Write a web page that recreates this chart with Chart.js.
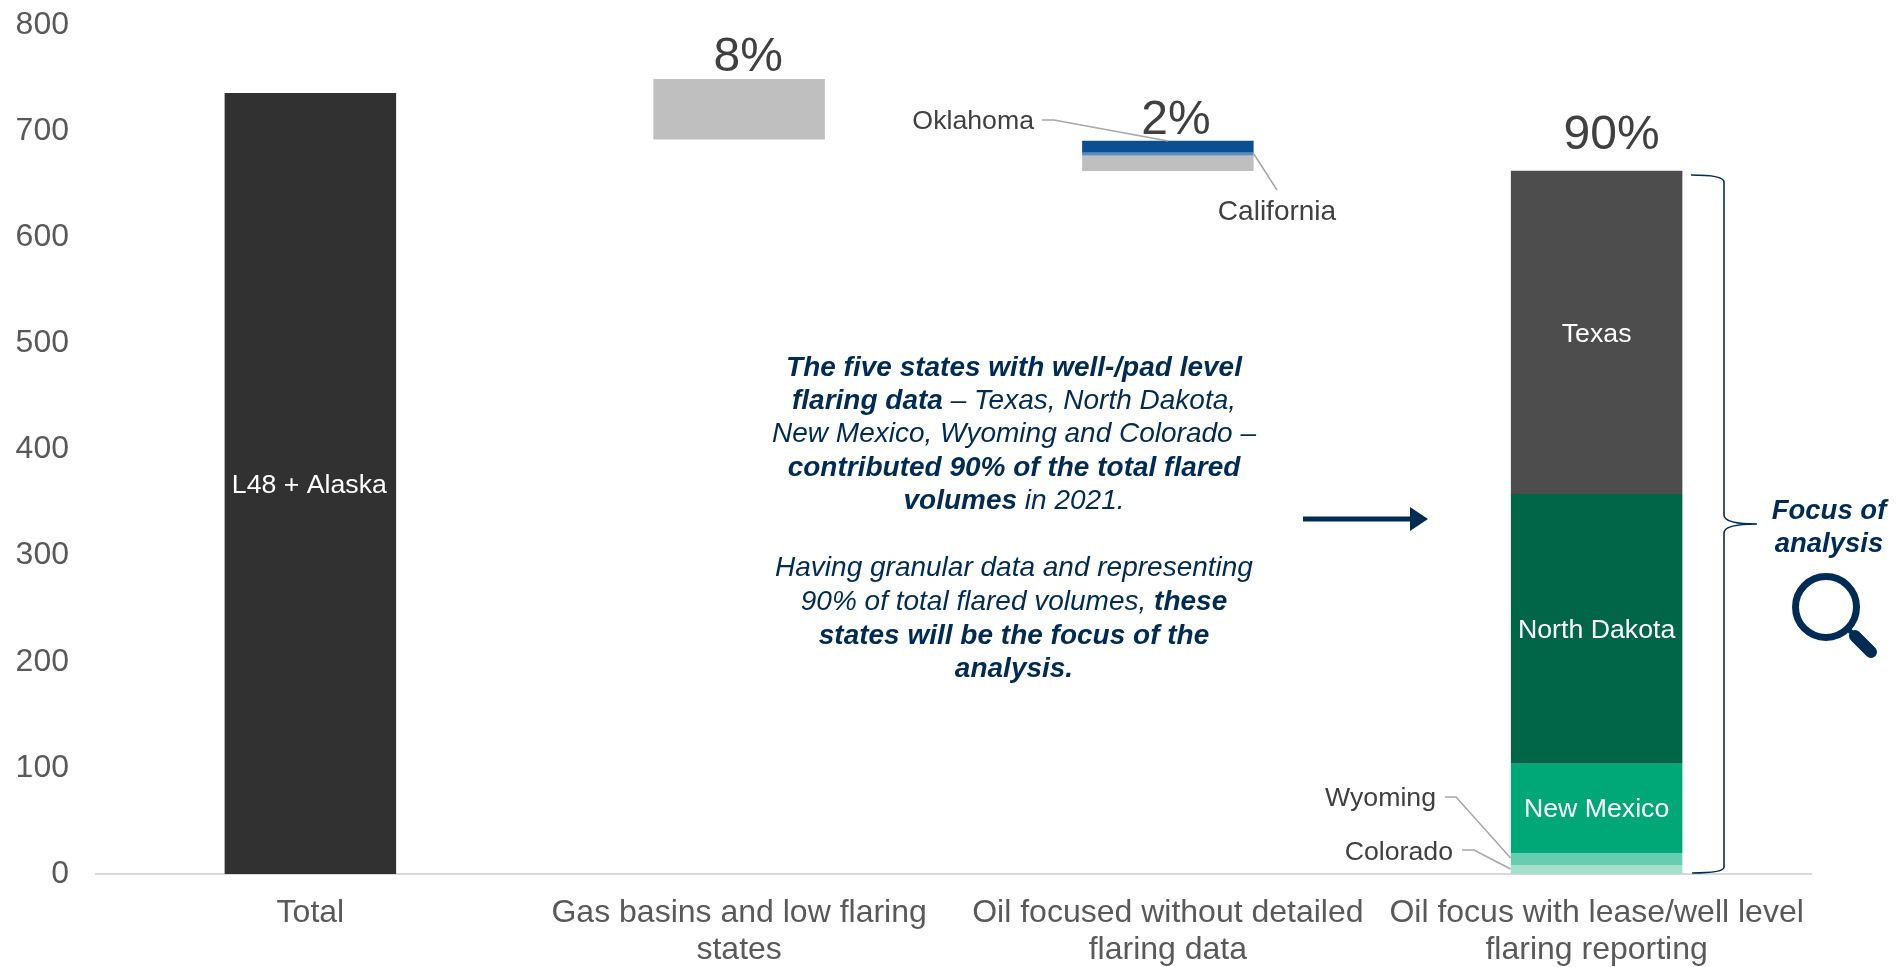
<!DOCTYPE html>
<html lang="en">
<head>
    <meta charset="UTF-8">
    <title>Flared volumes by group of states</title>
    <script src="https://cdn.jsdelivr.net/npm/chart.js"></script>
    <style>
        * {
            margin: 0;
            padding: 0;
            box-sizing: border-box;
        }

        body {
            background: #ffffff;
            overflow: hidden;
        }

        canvas {
            display: block;
        }
    </style>
</head>
<body>
    <canvas id="flaringChart" width="1897" height="967"></canvas>

    <script>
        const categories = [
            "Total",
            ["Gas basins and low flaring", "states"],
            ["Oil focused without detailed", "flaring data"],
            ["Oil focus with lease/well level", "flaring reporting"]
        ];

        // Stacked values. "offset" is the invisible part under the floating bars
        const offset = [0, 692, 662.5, 0];
        const total = [736, null, null, null];
        const lowFlaring = [null, 57, null, null];
        const otherOil = [null, null, 14.3, null];
        const california = [null, null, 2.8, null];
        const oklahoma = [null, null, 11.4, null];
        const colorado = [null, null, null, 8.5];
        const wyoming = [null, null, null, 11.3];
        const newMexico = [null, null, null, 84];
        const northDakota = [null, null, null, 254.3];
        const texas = [null, null, null, 304.5];

        const NAVY = "#002b54";
        const GREY_TEXT = "#404040";
        const LEADER = "#a6a6a6";
        const FONT = "'Liberation Sans', Arial, sans-serif";

        // Central note: [text, bold]
        const noteLines = [
            { y: 367, runs: [["The five states with well-/pad level", true]] },
            { y: 400, runs: [["flaring data", true], [" – Texas, North Dakota,", false]] },
            { y: 433, runs: [["New Mexico, Wyoming and Colorado –", false]] },
            { y: 467, runs: [["contributed 90% of the total flared", true]] },
            { y: 500, runs: [["volumes", true], [" in 2021.", false]] },
            { y: 567, runs: [["Having granular data and representing", false]] },
            { y: 601, runs: [["90% of total flared volumes, ", false], ["these", true]] },
            { y: 635, runs: [["states will be the focus of the", true]] },
            { y: 668, runs: [["analysis.", true]] }
        ];

        function text(ctx, str, x, y, font, color, align) {
            ctx.font = font;
            ctx.fillStyle = color;
            ctx.textAlign = align || "center";
            ctx.textBaseline = "middle";
            ctx.fillText(str, x, y + 1.5);
        }

        function polyline(ctx, pts, color, width) {
            ctx.beginPath();
            ctx.moveTo(pts[0][0], pts[0][1]);
            pts.slice(1).forEach(p => ctx.lineTo(p[0], p[1]));
            ctx.strokeStyle = color;
            ctx.lineWidth = width;
            ctx.stroke();
        }

        function drawNote(ctx, cx) {
            const size = 28;
            noteLines.forEach(line => {
                const fontOf = bold => `italic ${bold ? "bold " : ""}${size}px ${FONT}`;
                let width = 0;
                line.runs.forEach(r => {
                    ctx.font = fontOf(r[1]);
                    width += ctx.measureText(r[0]).width;
                });
                let x = cx - width / 2;
                line.runs.forEach(r => {
                    text(ctx, r[0], x, line.y, fontOf(r[1]), NAVY, "left");
                    x += ctx.measureText(r[0]).width;
                });
            });
        }

        function drawBrace(ctx) {
            ctx.beginPath();
            ctx.moveTo(1691, 175);
            ctx.bezierCurveTo(1708, 175, 1724, 176, 1724, 182);
            ctx.lineTo(1724, 515);
            ctx.bezierCurveTo(1724, 522, 1740, 524, 1757, 524);
            ctx.bezierCurveTo(1740, 524, 1724, 526, 1724, 533);
            ctx.lineTo(1724, 867);
            ctx.bezierCurveTo(1724, 872, 1708, 873, 1692, 873);
            ctx.strokeStyle = NAVY;
            ctx.lineWidth = 1.6;
            ctx.stroke();
        }

        function drawArrow(ctx) {
            polyline(ctx, [[1303, 519], [1412, 519]], NAVY, 5);
            ctx.beginPath();
            ctx.moveTo(1410, 507);
            ctx.lineTo(1428, 519);
            ctx.lineTo(1410, 531);
            ctx.closePath();
            ctx.fillStyle = NAVY;
            ctx.fill();
        }

        function drawMagnifier(ctx) {
            ctx.beginPath();
            ctx.arc(1826, 607, 30.5, 0, Math.PI * 2);
            ctx.strokeStyle = NAVY;
            ctx.lineWidth = 7;
            ctx.stroke();
            polyline(ctx, [[1848, 629], [1856, 637]], NAVY, 5);
            ctx.lineCap = "round";
            polyline(ctx, [[1855, 636], [1871, 652]], NAVY, 12);
            ctx.lineCap = "butt";
        }

        // Labels, leader lines and notes on top of the bars
        const annotations = {
            id: "annotations",
            afterDatasetsDraw(chart) {
                const ctx = chart.ctx;
                const xs = chart.scales.x;
                const c1 = xs.getPixelForValue(0);
                const c2 = xs.getPixelForValue(1);
                const c3 = xs.getPixelForValue(2);
                const c4 = xs.getPixelForValue(3);
                const inner = `26.7px ${FONT}`;
                const big = `48px ${FONT}`;

                ctx.save();
                text(ctx, "L48 + Alaska", c1 - 1, 484, inner, "#ffffff");
                text(ctx, "Texas", c4, 333, inner, "#ffffff");
                text(ctx, "North Dakota", c4, 629, inner, "#ffffff");
                text(ctx, "New Mexico", c4, 808, inner, "#ffffff");

                text(ctx, "8%", c2 + 9, 56, big, GREY_TEXT);
                text(ctx, "2%", c3 + 8, 119, big, GREY_TEXT);
                text(ctx, "90%", c4 + 15, 134, big, GREY_TEXT);

                text(ctx, "Oklahoma", 1034, 120, inner, GREY_TEXT, "right");
                text(ctx, "California", 1277, 211, `28px ${FONT}`, GREY_TEXT);
                text(ctx, "Wyoming", 1436, 797, inner, GREY_TEXT, "right");
                text(ctx, "Colorado", 1453, 851, inner, GREY_TEXT, "right");

                polyline(ctx, [[1042, 120], [1054, 120], [1168, 141]], LEADER, 1.5);
                polyline(ctx, [[c3 + 86, 154], [1277, 190]], LEADER, 1.5);
                polyline(ctx, [[1445, 797], [1456, 797], [c4 - 86, 858]], LEADER, 1.5);
                polyline(ctx, [[1462, 850], [1474, 850], [c4 - 86, 869]], LEADER, 1.5);

                drawNote(ctx, 1014);
                drawArrow(ctx);
                drawBrace(ctx);

                const focus = `italic bold 27.5px ${FONT}`;
                text(ctx, "Focus of", 1829, 510, focus, NAVY);
                text(ctx, "analysis", 1829, 543, focus, NAVY);
                drawMagnifier(ctx);
                ctx.restore();
            }
        };

        const series = (label, data, color) => ({
            label: label,
            data: data,
            backgroundColor: color,
            borderWidth: 0,
            barPercentage: 0.4,
            categoryPercentage: 1,
            stack: "flaring"
        });

        new Chart(document.getElementById("flaringChart"), {
            type: "bar",
            data: {
                labels: categories,
                datasets: [
                    series("offset", offset, "rgba(0, 0, 0, 0)"),
                    series("L48 + Alaska", total, "#313131"),
                    series("Gas basins and low flaring states", lowFlaring, "#bfbfbf"),
                    series("Other oil states", otherOil, "#bfbfbf"),
                    series("California", california, "#5b8cbf"),
                    series("Oklahoma", oklahoma, "#0a4f92"),
                    series("Colorado", colorado, "#a6e0cd"),
                    series("Wyoming", wyoming, "#66cdae"),
                    series("New Mexico", newMexico, "#00a878"),
                    series("North Dakota", northDakota, "#006647"),
                    series("Texas", texas, "#4d4d4d")
                ]
            },
            options: {
                responsive: false,
                animation: false,
                layout: {
                    padding: { top: 25, right: 86, left: 0, bottom: 0 }
                },
                plugins: {
                    legend: { display: false },
                    tooltip: { enabled: false }
                },
                scales: {
                    x: {
                        stacked: true,
                        grid: { display: false, drawTicks: false },
                        border: { color: "#d9d9d9", width: 2 },
                        afterFit: scale => { scale.height = 93; },
                        ticks: {
                            color: "#595959",
                            padding: 20,
                            maxRotation: 0,
                            autoSkip: false,
                            font: { family: FONT, size: 32, lineHeight: 1.17 }
                        }
                    },
                    y: {
                        stacked: true,
                        min: 0,
                        max: 800,
                        grid: { display: false, drawTicks: false },
                        border: { display: false },
                        // tick padding also adds to the top, drop it so the area keeps its height
                        afterFit: scale => {
                            scale.width = 96;
                            scale.paddingTop = 0;
                            scale.paddingBottom = 0;
                        },
                        ticks: {
                            stepSize: 100,
                            color: "#595959",
                            padding: 27,
                            font: { family: FONT, size: 32 }
                        }
                    }
                }
            },
            plugins: [annotations]
        });
    </script>
</body>
</html>
